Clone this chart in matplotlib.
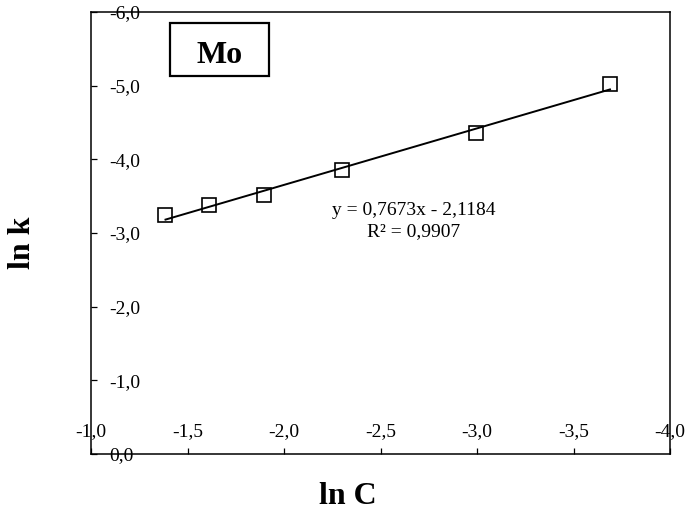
import matplotlib
matplotlib.use("Agg")
import numpy as np
import matplotlib.pyplot as plt
from matplotlib.ticker import FuncFormatter, MultipleLocator
from matplotlib.patches import Rectangle

# ln of concentration and ln of rate constant for Mo
ln_c = [-1.386, -1.609, -1.897, -2.303, -2.996, -3.689]
ln_k = [-3.24, -3.38, -3.51, -3.85, -4.36, -5.02]

# linear trendline reported with the data
slope = 0.7673
intercept = -2.1184
r2 = 0.9907

plt.rcParams["font.family"] = ["Liberation Serif", "DejaVu Serif"]


def comma(v, pos=None):
    return f"{v:.1f}".replace(".", ",")


fig = plt.figure(figsize=(6.9, 5.26), dpi=100)
ax = fig.add_axes([91 / 690, 72 / 526, 579 / 690, 442 / 526])

ax.plot(ln_c, ln_k, linestyle="none", marker="s", markersize=10,
        markerfacecolor="none", markeredgecolor="black", markeredgewidth=1.2)

xs = np.array([min(ln_c), max(ln_c)])
ax.plot(xs, slope * xs + intercept, color="black", linewidth=1.4)

# both axes run from 0 outwards to negative values
ax.set_xlim(-1.0, -4.0)
ax.set_ylim(0.0, -6.0)
ax.xaxis.set_major_locator(MultipleLocator(0.5))
ax.yaxis.set_major_locator(MultipleLocator(1.0))
ax.xaxis.set_major_formatter(FuncFormatter(comma))
ax.yaxis.set_major_formatter(FuncFormatter(comma))

for sp in ax.spines.values():
    sp.set_linewidth(1.1)

ax.tick_params(axis="both", direction="in", length=4, width=0.9,
               labelsize=14, colors="black")
ax.tick_params(axis="y", pad=-13)
ax.tick_params(axis="x", pad=-10)
for lab in ax.get_yticklabels():
    lab.set_horizontalalignment("left")
for lab in ax.get_xticklabels():
    lab.set_verticalalignment("bottom")

eq = "y = " + f"{slope:.4f}".replace(".", ",") + "x - " + f"{abs(intercept):.4f}".replace(".", ",")
eq += "\nR² = " + f"{r2:.4f}".replace(".", ",")
ax.text(-2.674, -3.163, eq, fontsize=14, ha="center", va="center",
        multialignment="center", linespacing=1.35)

# element label in a framed box
ax.add_patch(Rectangle((0.1364, 0.855), 0.171, 0.12, transform=ax.transAxes,
                       fill=False, edgecolor="black", linewidth=1.6))
ax.text(0.222, 0.884, "Mo", transform=ax.transAxes, fontsize=23,
        fontweight="bold", ha="center", va="baseline")

fig.text(23 / 690, 1 - 243 / 526, "ln k", rotation=90, fontsize=23,
         fontweight="bold", ha="center", va="center")
fig.text(348 / 690, 1 - 497 / 526, "ln C", fontsize=23,
         fontweight="bold", ha="center", va="center")

fig.savefig("out.png", dpi=100)
